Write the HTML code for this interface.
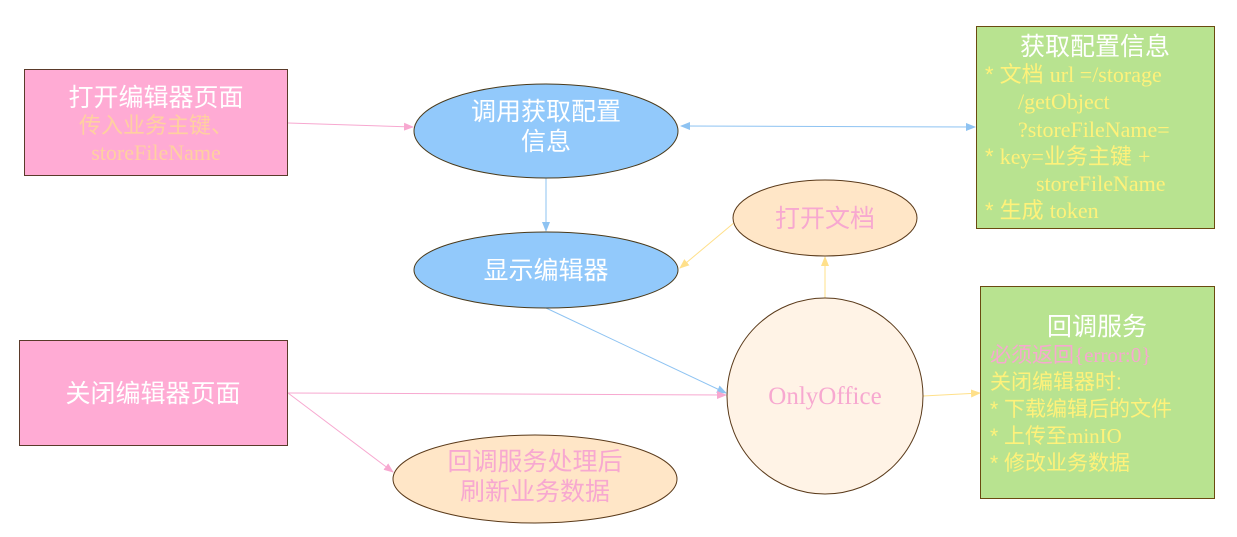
<!DOCTYPE html>
<html><head><meta charset="utf-8"><style>
html,body{margin:0;padding:0;background:#fff;}
svg{display:block;font-family:"Liberation Serif","Noto Sans CJK SC",sans-serif;}
.cj{font-family:"Liberation Sans","Noto Sans CJK SC",sans-serif;}
</style></head><body>
<svg width="1237" height="537" viewBox="0 0 1237 537" xmlns="http://www.w3.org/2000/svg">
<defs>
<marker id="mp" markerWidth="10" markerHeight="8" refX="9" refY="4" orient="auto" markerUnits="userSpaceOnUse"><path d="M0,0 L10,4 L0,8z" fill="#f7a8d0"/></marker>
<marker id="mb" markerWidth="10" markerHeight="8" refX="9" refY="4" orient="auto" markerUnits="userSpaceOnUse"><path d="M0,0 L10,4 L0,8z" fill="#8ec3f2"/></marker>
<marker id="mbs" markerWidth="10" markerHeight="8" refX="1" refY="4" orient="auto" markerUnits="userSpaceOnUse"><path d="M10,0 L0,4 L10,8z" fill="#8ec3f2"/></marker>
<marker id="my" markerWidth="10" markerHeight="8" refX="9" refY="4" orient="auto" markerUnits="userSpaceOnUse"><path d="M0,0 L10,4 L0,8z" fill="#ffe08a"/></marker>
</defs>
<line x1="288" y1="123" x2="413" y2="127" stroke="#f7a8d0" marker-end="url(#mp)"/>
<line x1="546" y1="176" x2="546" y2="231" stroke="#8ec3f2" marker-end="url(#mb)"/>
<line x1="681" y1="126" x2="975" y2="127" stroke="#8ec3f2" marker-end="url(#mb)" marker-start="url(#mbs)"/>
<line x1="825" y1="298" x2="825" y2="257" stroke="#ffe08a" marker-end="url(#my)"/>
<line x1="735" y1="222" x2="680" y2="268" stroke="#ffe08a" marker-end="url(#my)"/>
<line x1="546" y1="308" x2="726" y2="393" stroke="#8ec3f2" marker-end="url(#mb)"/>
<line x1="288" y1="393" x2="726" y2="395" stroke="#f7a8d0" marker-end="url(#mp)"/>
<line x1="288" y1="393" x2="393" y2="472" stroke="#f7a8d0" marker-end="url(#mp)"/>
<line x1="923" y1="396" x2="980" y2="393" stroke="#ffe08a" marker-end="url(#my)"/>
<rect x="24.5" y="69.5" width="263" height="106" fill="#ffabd4" stroke="#5a3a2a"/>
<text x="156" y="106" font-size="25" fill="#fff" text-anchor="middle" class="cj">打开编辑器页面</text>
<text x="156" y="133" font-size="22" fill="#ffd0a0" text-anchor="middle" class="cj">传入业务主键、</text>
<text x="156" y="160" font-size="22" fill="#ffd0a0" text-anchor="middle">storeFileName</text>
<rect x="19.5" y="340.5" width="268" height="105" fill="#ffabd4" stroke="#5a3a2a"/>
<text x="153" y="402" font-size="25" fill="#fff" text-anchor="middle" class="cj">关闭编辑器页面</text>
<ellipse cx="546" cy="131" rx="132" ry="47" fill="#92c9fb" stroke="#4a3a1a"/>
<text x="546" y="120" font-size="25" fill="#fff" text-anchor="middle" class="cj">调用获取配置</text>
<text x="546" y="150" font-size="25" fill="#fff" text-anchor="middle" class="cj">信息</text>
<ellipse cx="546" cy="270" rx="132" ry="38" fill="#92c9fb" stroke="#4a3a1a"/>
<text x="546" y="279" font-size="25" fill="#fff" text-anchor="middle" class="cj">显示编辑器</text>
<ellipse cx="825" cy="218" rx="92" ry="38" fill="#ffe6c7" stroke="#5a3a1a"/>
<text x="825" y="227" font-size="25" fill="#f7a8d0" text-anchor="middle" class="cj">打开文档</text>
<ellipse cx="535" cy="479" rx="142" ry="44" fill="#ffe6c7" stroke="#5a3a1a"/>
<text x="535" y="470" font-size="25" fill="#f7a8d0" text-anchor="middle" class="cj">回调服务处理后</text>
<text x="535" y="500" font-size="25" fill="#f7a8d0" text-anchor="middle" class="cj">刷新业务数据</text>
<circle cx="825" cy="396" r="98" fill="#fff3e6" stroke="#5a3a1a"/>
<text x="825" y="404" font-size="25" fill="#f7a8d0" text-anchor="middle">OnlyOffice</text>
<rect x="976.5" y="26.5" width="238" height="202" fill="#b8e390" stroke="#6a4a10"/>
<text x="1095" y="55" font-size="25" fill="#fff" text-anchor="middle" class="cj">获取配置信息</text>
<g font-size="22" fill="#fff27a">
<text x="985" y="82" class="cj">* 文档 <tspan font-family="Liberation Serif">url =/storage</tspan></text>
<text x="1018" y="109">/getObject</text>
<text x="1018" y="137">?storeFileName=</text>
<text x="985" y="164" class="cj">* <tspan font-family="Liberation Serif">key=</tspan>业务主键 <tspan font-family="Liberation Serif">+</tspan></text>
<text x="1036" y="191">storeFileName</text>
<text x="985" y="218" class="cj">* 生成 <tspan font-family="Liberation Serif">token</tspan></text>
</g>
<rect x="980.5" y="286.5" width="234" height="212" fill="#b8e390" stroke="#6a4a10"/>
<text x="1097" y="335" font-size="25" fill="#fff" text-anchor="middle" class="cj">回调服务</text>
<text x="990" y="362" font-size="21" fill="#f7a8d0" class="cj">必须返回<tspan font-family="Liberation Serif">{error:0}</tspan></text>
<g font-size="21" fill="#fff27a" class="cj">
<text x="990" y="389">关闭编辑器时:</text>
<text x="990" y="416">* 下载编辑后的文件</text>
<text x="990" y="443">* 上传至<tspan font-family="Liberation Serif">minIO</tspan></text>
<text x="990" y="470">* 修改业务数据</text>
</g>
</svg>
</body></html>
